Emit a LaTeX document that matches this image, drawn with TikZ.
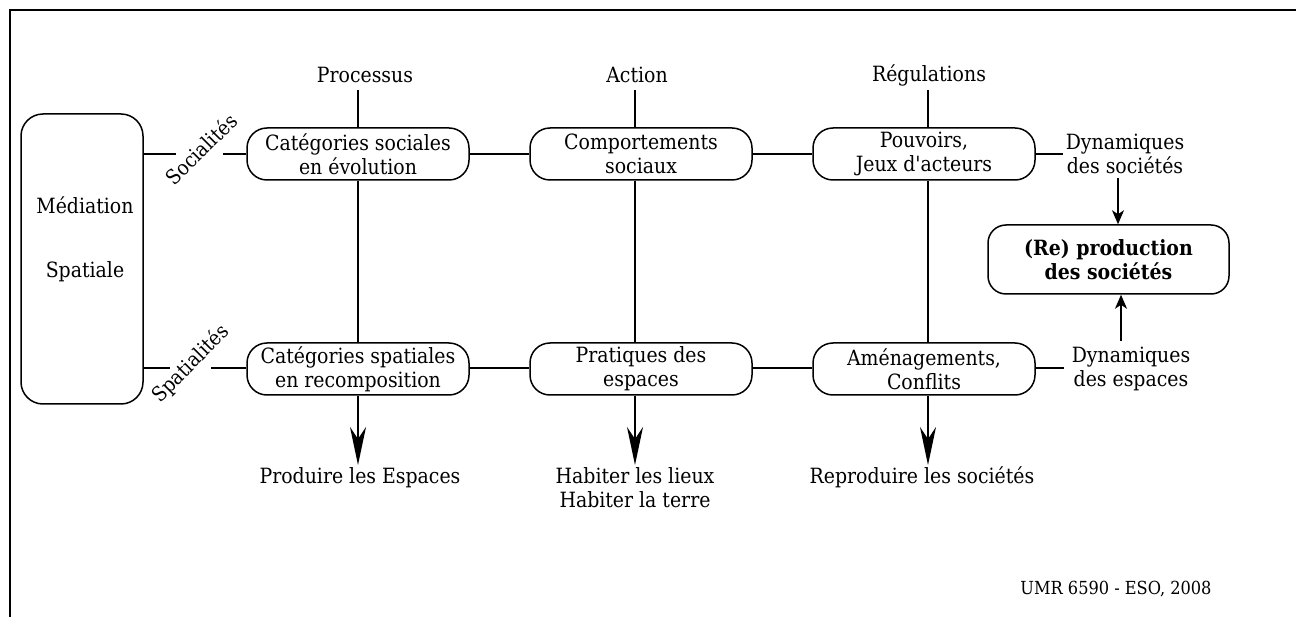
\documentclass[tikz,border=0pt]{standalone}
\usepackage{fontspec}
\setmainfont{DejaVu Serif Condensed}
\usetikzlibrary{arrows.meta}
\begin{document}
\begin{tikzpicture}[x=1pt,y=1pt,
  box/.style={draw, line width=1.5pt, rounded corners=20pt, minimum width=222pt, minimum height=52pt, align=center, inner sep=0pt, font=\fontsize{21}{24}\selectfont},
  lbl/.style={align=center, font=\fontsize{21}{24}\selectfont, inner sep=2pt},
  rot/.style={font=\fontsize{20.5}{24}\selectfont, rotate=45, inner sep=0pt},
  ln/.style={line width=1.5pt},
  bigarr/.style={line width=1.5pt, -{Stealth[length=38pt,width=16pt,inset=12pt]}},
  smallarr/.style={line width=1.5pt, -{Stealth[length=14pt,width=12pt,inset=4pt]}}
]
\useasboundingbox (0,0) rectangle (1296,-617);
\draw[line width=1.8pt] (10,-617) -- (10,-10) -- (1296,-10);

% Mediation spatiale
\node[draw, line width=1.5pt, rounded corners=22pt, minimum width=122pt, minimum height=290pt, inner sep=0pt] (med) at (82,-259) {};
\node[lbl] (medt1) at (85,-205) {Médiation};
\node[lbl] (medt2) at (85,-272) {Spatiale};

% top labels
\node[lbl] (proc) at (365,-75) {Processus};
\node[lbl] (act) at (637,-75) {Action};
\node[lbl] (reg) at (929,-75) {Régulations};

% boxes
\node[box] (b1) at (358,-154) {Catégories sociales\\en évolution};
\node[box] (b2) at (641,-154) {Comportements\\sociaux};
\node[box] (b3) at (924,-154) {Pouvoirs,\\Jeux d\textquotesingle acteurs};
\node[box] (b4) at (358,-369) {Catégories spatiales\\en recomposition};
\node[box] (b5) at (641,-369) {Pratiques des\\espaces};
\node[box] (b6) at (924,-369) {Aménagements,\\Conflits};

% rotated labels
\node[rot] (soc) at (201,-149) {Socialités};
\node[rot] (spa) at (191,-364) {Spatialités};

% right side
\node[lbl, inner sep=3pt] (dyn1) at (1125,-154) {Dynamiques\\des sociétés};
\node[lbl, inner xsep=8pt] (dyn2) at (1131,-369) {Dynamiques\\des espaces};
\node[draw, line width=1.5pt, rounded corners=18pt, minimum width=241pt, minimum height=69pt, align=center, inner sep=0pt, font=\fontsize{21}{24}\selectfont\bfseries] (rp) at (1108.5,-259.5) {(Re) production\\des sociétés};

% bottom labels
\node[lbl, anchor=north] (prod) at (360,-465) {Produire les Espaces};
\node[lbl, anchor=north] (hab) at (635,-465) {Habiter les lieux\\Habiter la terre};
\node[lbl, anchor=north] (repr) at (922,-465) {Reproduire les sociétés};

\node[lbl] (umr) at (1116,-589) {\fontsize{18}{20}\selectfont UMR 6590 - ESO, 2008};

% coordinates for line breaks
\coordinate (s1) at (176,-154);
\coordinate (s2) at (223,-154);
\coordinate (p1) at (170,-368);
\coordinate (p2) at (211,-368);
\coordinate (t1) at (358,-90);
\coordinate (t2) at (635,-90);
\coordinate (t3) at (928,-90);
\coordinate (a1) at (1118,-178);
\coordinate (a2) at (1121,-341);

% horizontal connectors
\draw[ln] (med.east |- s1) -- (s1);
\draw[ln] (s2) -- (b1.west);
\draw[ln] (b1.east) -- (b2.west);
\draw[ln] (b2.east) -- (b3.west);
\draw[ln] (b3.east) -- (dyn1.west);
\draw[ln] (med.east |- p1) -- (p1);
\draw[ln] (p2) -- (b4.west |- p2);
\draw[ln] (b4.east |- p2) -- (b5.west |- p2);
\draw[ln] (b5.east |- p2) -- (b6.west |- p2);
\draw[ln] (b6.east |- p2) -- (dyn2.west |- p2);

% vertical connectors
\draw[ln] (t1) -- (t1 |- b1.north);
\draw[ln] (t1 |- b1.south) -- (t1 |- b4.north);
\draw[bigarr] (t1 |- b4.south) -- (t1 |- prod.north);
\draw[ln] (t2) -- (t2 |- b2.north);
\draw[ln] (t2 |- b2.south) -- (t2 |- b5.north);
\draw[bigarr] (t2 |- b5.south) -- (t2 |- hab.north);
\draw[ln] (t3) -- (t3 |- b3.north);
\draw[ln] (t3 |- b3.south) -- (t3 |- b6.north);
\draw[bigarr] (t3 |- b6.south) -- (t3 |- repr.north);

% arrows to (Re) production
\draw[smallarr] (a1) -- (a1 |- rp.north);
\draw[smallarr] (a2) -- (a2 |- rp.south);
\end{tikzpicture}
\end{document}
